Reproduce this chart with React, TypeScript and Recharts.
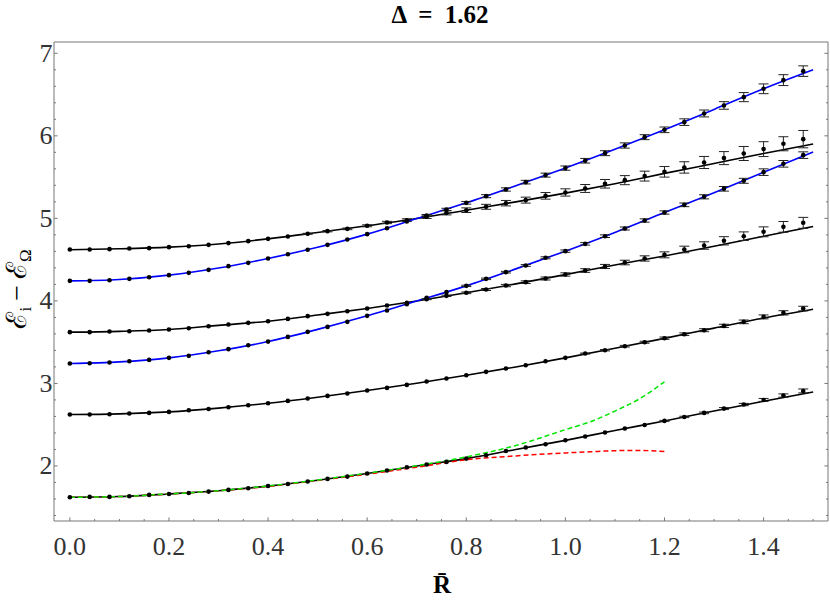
import { ComposedChart, Line, Scatter, ErrorBar, XAxis, YAxis } from 'recharts';

// sample positions of the simulation points (every 0.04)
const xPts = [
  0, 0.04, 0.08, 0.12, 0.16, 0.2, 0.24, 0.28, 0.32, 0.36, 0.4, 0.44, 0.48, 0.52, 0.56, 0.6, 0.64, 0.68, 0.72,
  0.76, 0.8, 0.84, 0.88, 0.92, 0.96, 1.0, 1.04, 1.08, 1.12, 1.16, 1.2, 1.24, 1.28, 1.32, 1.36, 1.4, 1.44, 1.48,
];

// fit curves, sampled every 0.1
const xLine = [0, 0.1, 0.2, 0.3, 0.4, 0.5, 0.6, 0.7, 0.8, 0.9, 1.0, 1.1, 1.2, 1.3, 1.4, 1.5];
const lineA = [4.62, 4.631, 4.651, 4.69, 4.752, 4.829, 4.91, 4.998, 5.099, 5.2, 5.306, 5.42, 5.545, 5.665, 5.785, 5.9];
const lineB = [4.243, 4.26, 4.312, 4.398, 4.514, 4.649, 4.809, 4.998, 5.188, 5.395, 5.609, 5.836, 6.073, 6.32, 6.57, 6.8];
const lineC = [3.621, 3.631, 3.653, 3.703, 3.754, 3.829, 3.908, 3.998, 4.098, 4.206, 4.318, 4.435, 4.545, 4.663, 4.783, 4.902];
const lineD = [3.241, 3.261, 3.31, 3.396, 3.507, 3.655, 3.819, 3.998, 4.182, 4.388, 4.603, 4.83, 5.071, 5.31, 5.56, 5.803];
const lineE = [2.623, 2.631, 2.655, 2.701, 2.76, 2.833, 2.914, 3.003, 3.099, 3.2, 3.31, 3.426, 3.546, 3.67, 3.792, 3.899];
const lineF = [1.621, 1.629, 1.661, 1.7, 1.756, 1.827, 1.908, 2.0, 2.089, 2.2, 2.31, 2.43, 2.545, 2.666, 2.785, 2.897];

// the two dashed approximations, 0 .. 1.2
const xDash = [0, 0.1, 0.2, 0.3, 0.4, 0.5, 0.6, 0.7, 0.8, 0.9, 1.0, 1.05, 1.1, 1.15, 1.2];
const greenDash = [1.621, 1.629, 1.661, 1.7, 1.757, 1.83, 1.912, 2.003, 2.11, 2.248, 2.44, 2.535, 2.665, 2.815, 3.02];
const redDash = [1.621, 1.629, 1.66, 1.699, 1.752, 1.825, 1.9, 1.985, 2.075, 2.122, 2.158, 2.172, 2.185, 2.188, 2.174];

// simulation points and their error bars
const ptsA = [
  4.623, 4.623, 4.627, 4.635, 4.639, 4.651, 4.663, 4.679, 4.7, 4.724, 4.752, 4.78, 4.813, 4.845, 4.873, 4.91, 4.95, 4.978, 5.019,
  5.067, 5.099, 5.14, 5.184, 5.221, 5.273, 5.314, 5.362, 5.419, 5.463, 5.512, 5.564, 5.617, 5.677, 5.73, 5.786, 5.839, 5.904, 5.96,
];
const errA = [
  0, 0, 0, 0, 0, 0, 0, 0, 0, 0, 0, 0, 0.006, 0.008, 0.01, 0.012, 0.014, 0.017, 0.02,
  0.025, 0.028, 0.03, 0.033, 0.036, 0.04, 0.044, 0.048, 0.052, 0.055, 0.06, 0.064, 0.069, 0.073, 0.079, 0.085, 0.09, 0.085, 0.105,
];
const ptsB = [
  4.243, 4.243, 4.251, 4.267, 4.287, 4.312, 4.34, 4.376, 4.421, 4.461, 4.514, 4.566, 4.619, 4.679, 4.744, 4.809, 4.881, 4.962, 5.035,
  5.108, 5.188, 5.269, 5.35, 5.439, 5.524, 5.609, 5.698, 5.79, 5.883, 5.984, 6.073, 6.166, 6.271, 6.368, 6.469, 6.57, 6.675, 6.784,
];
const errB = [
  0, 0, 0, 0, 0, 0, 0, 0, 0, 0, 0, 0, 0, 0, 0, 0, 0, 0, 0.012,
  0.014, 0.016, 0.018, 0.02, 0.022, 0.024, 0.026, 0.028, 0.03, 0.032, 0.03, 0.034, 0.04, 0.042, 0.046, 0.055, 0.059, 0.066, 0.064,
];
const ptsC = [
  3.621, 3.621, 3.629, 3.633, 3.641, 3.653, 3.669, 3.693, 3.714, 3.734, 3.754, 3.782, 3.815, 3.843, 3.875, 3.908, 3.944, 3.976, 4.021,
  4.061, 4.098, 4.138, 4.186, 4.227, 4.271, 4.32, 4.368, 4.417, 4.465, 4.514, 4.558, 4.623, 4.671, 4.728, 4.784, 4.837, 4.897, 4.946,
];
const errC = [
  0, 0, 0, 0, 0, 0, 0, 0, 0, 0, 0, 0, 0, 0, 0, 0, 0, 0, 0.006,
  0.008, 0.01, 0.012, 0.014, 0.016, 0.018, 0.02, 0.022, 0.025, 0.028, 0.032, 0.036, 0.04, 0.045, 0.05, 0.052, 0.06, 0.065, 0.066,
];
const ptsD = [
  3.241, 3.245, 3.253, 3.269, 3.285, 3.31, 3.334, 3.378, 3.415, 3.463, 3.507, 3.564, 3.625, 3.685, 3.746, 3.819, 3.883, 3.96, 4.037,
  4.106, 4.182, 4.267, 4.348, 4.429, 4.522, 4.603, 4.691, 4.784, 4.877, 4.974, 5.071, 5.164, 5.261, 5.358, 5.455, 5.56, 5.661, 5.766,
];
const errD = [
  0, 0, 0, 0, 0, 0, 0, 0, 0, 0, 0, 0, 0, 0, 0, 0, 0, 0, 0,
  0, 0.008, 0.009, 0.01, 0.011, 0.012, 0.014, 0.015, 0.016, 0.018, 0.02, 0.02, 0.022, 0.025, 0.028, 0.03, 0.04, 0.04, 0.04,
];
const ptsE = [
  2.623, 2.623, 2.627, 2.635, 2.643, 2.655, 2.675, 2.691, 2.712, 2.736, 2.76, 2.788, 2.817, 2.849, 2.877, 2.914, 2.946, 2.982, 3.023,
  3.059, 3.099, 3.14, 3.18, 3.221, 3.269, 3.31, 3.362, 3.402, 3.451, 3.499, 3.548, 3.596, 3.645, 3.697, 3.746, 3.806, 3.855, 3.907,
];
const errE = [
  0, 0, 0, 0, 0, 0, 0, 0, 0, 0, 0, 0, 0, 0, 0, 0, 0, 0, 0,
  0, 0, 0, 0, 0, 0, 0, 0.006, 0.008, 0.01, 0.012, 0.014, 0.016, 0.018, 0.02, 0.022, 0.024, 0.026, 0.028,
];
const ptsF = [
  1.621, 1.625, 1.625, 1.633, 1.649, 1.661, 1.673, 1.689, 1.71, 1.73, 1.758, 1.782, 1.811, 1.843, 1.871, 1.908, 1.944, 1.984, 2.017,
  2.049, 2.089, 2.13, 2.182, 2.223, 2.263, 2.312, 2.356, 2.405, 2.453, 2.497, 2.546, 2.594, 2.643, 2.695, 2.744, 2.8, 2.853, 2.909,
];
const errF = [
  0, 0, 0, 0, 0, 0, 0, 0, 0, 0, 0, 0, 0, 0, 0, 0, 0, 0, 0,
  0, 0, 0, 0, 0, 0, 0, 0, 0, 0, 0, 0.006, 0.008, 0.01, 0.012, 0.014, 0.018, 0.02, 0.024,
];

const xTicks = [0, 0.2, 0.4, 0.6, 0.8, 1.0, 1.2, 1.4];
const xMinorTicks = [
  0.05, 0.1, 0.15, 0.25, 0.3, 0.35, 0.45, 0.5, 0.55, 0.65, 0.7, 0.75, 0.85, 0.9, 0.95, 1.05, 1.1, 1.15, 1.25, 1.3, 1.35, 1.45, 1.5,
];
const yTicks = [2, 3, 4, 5, 6, 7];
const yMinorTicks = [
  1.4, 1.6, 1.8, 2.2, 2.4, 2.6, 2.8, 3.2, 3.4, 3.6, 3.8, 4.2, 4.4, 4.6, 4.8, 5.2, 5.4, 5.6, 5.8, 6.2, 6.4, 6.6, 6.8,
];

const X_DOMAIN = [-0.032, 1.53];
const Y_DOMAIN = [1.333, 7.137];
const FRAME = '#777';
const LABEL = '#333';
const SERIF = 'Liberation Serif, DejaVu Serif, serif';
const MAJOR = 3.6;
const MINOR = 2;

const allX = [...xTicks, ...xMinorTicks].sort((a, b) => a - b);
const allY = [...yTicks, ...yMinorTicks].sort((a, b) => a - b);

const toLine = (xs: number[], ys: number[]) => xs.map((x, i) => ({ x, y: ys[i] }));
const toPts = (ys: number[], es: number[]) => xPts.map((x, i) => ({ x, y: ys[i], e: es[i] }));

const fits = [
  { id: 'A', data: toLine(xLine, lineA), color: '#000' },
  { id: 'B', data: toLine(xLine, lineB), color: '#0000ff' },
  { id: 'C', data: toLine(xLine, lineC), color: '#000' },
  { id: 'D', data: toLine(xLine, lineD), color: '#0000ff' },
  { id: 'E', data: toLine(xLine, lineE), color: '#000' },
  { id: 'F', data: toLine(xLine, lineF), color: '#000' },
];
const dashed = [
  { id: 'red', data: toLine(xDash, redDash), color: '#ff0000' },
  { id: 'green', data: toLine(xDash, greenDash), color: '#00e600' },
];
const points = [
  toPts(ptsA, errA),
  toPts(ptsB, errB),
  toPts(ptsC, errC),
  toPts(ptsD, errD),
  toPts(ptsE, errE),
  toPts(ptsF, errF),
];

const Dot = (p: any) => <circle cx={p.cx} cy={p.cy} r={2.3} fill="#000" />;

// tick marks point into the frame; labels only on bottom and left
function BottomTick({ x, y, payload }: any) {
  const major = xTicks.includes(payload.value);
  return (
    <g>
      <line x1={x} y1={y} x2={x} y2={y - (major ? MAJOR : MINOR)} stroke={FRAME} />
      {major && (
        <text x={x} y={y + 33.5} textAnchor="middle" style={{ fontFamily: SERIF, fontSize: 26 }} fill={LABEL}>
          {payload.value.toFixed(1)}
        </text>
      )}
    </g>
  );
}
function TopTick({ x, y, payload }: any) {
  const major = xTicks.includes(payload.value);
  return <line x1={x} y1={y} x2={x} y2={y + (major ? MAJOR : MINOR)} stroke={FRAME} />;
}
function LeftTick({ x, y, payload }: any) {
  const major = yTicks.includes(payload.value);
  return (
    <g>
      <line x1={x} y1={y} x2={x + (major ? MAJOR : MINOR)} y2={y} stroke={FRAME} />
      {major && (
        <text x={x - 1.5} y={y + 8.5} textAnchor="end" style={{ fontFamily: SERIF, fontSize: 26 }} fill={LABEL}>
          {payload.value}
        </text>
      )}
    </g>
  );
}
function RightTick({ x, y, payload }: any) {
  const major = yTicks.includes(payload.value);
  return <line x1={x} y1={y} x2={x - (major ? MAJOR : MINOR)} y2={y} stroke={FRAME} />;
}

export default function App() {
  const axisBase = {
    type: 'number' as const,
    allowDataOverflow: true,
    interval: 0 as const,
    tickLine: false,
    tickSize: 0,
    tickMargin: 0,
    axisLine: { stroke: FRAME },
  };
  return (
    <div style={{ position: 'absolute', left: 0, top: 0, width: 830, height: 603, background: '#fff' }}>
      <ComposedChart width={830} height={603} margin={{ top: 41, right: 1, bottom: 0, left: 0 }}>
        <XAxis {...axisBase} xAxisId="b" dataKey="x" domain={X_DOMAIN} ticks={allX} height={82} tick={<BottomTick />} />
        <XAxis {...axisBase} xAxisId="t" orientation="top" domain={X_DOMAIN} ticks={allX} height={1} tick={<TopTick />} />
        <YAxis {...axisBase} yAxisId="l" dataKey="y" domain={Y_DOMAIN} ticks={allY} width={54} tick={<LeftTick />} />
        <YAxis {...axisBase} yAxisId="r" orientation="right" domain={Y_DOMAIN} ticks={allY} width={1} tick={<RightTick />} />

        {fits.map((f) => (
          <Line key={f.id} xAxisId="b" yAxisId="l" data={f.data} dataKey="y" type="monotone"
            stroke={f.color} strokeWidth={1.6} dot={false} isAnimationActive={false} />
        ))}
        {dashed.map((f) => (
          <Line key={f.id} xAxisId="b" yAxisId="l" data={f.data} dataKey="y" type="monotone"
            stroke={f.color} strokeWidth={1.5} strokeDasharray="5 3" dot={false} isAnimationActive={false} />
        ))}
        {points.map((d, i) => (
          <Scatter key={i} xAxisId="b" yAxisId="l" data={d} dataKey="y" shape={Dot} isAnimationActive={false}>
            <ErrorBar dataKey="e" direction="y" width={5} stroke="#222" strokeWidth={1} isAnimationActive={false} />
          </Scatter>
        ))}
      </ComposedChart>

      <svg width={830} height={603} style={{ position: 'absolute', left: 0, top: 0, pointerEvents: 'none', fontFamily: SERIF }}>
        <text x={440} y={23} textAnchor="middle" fontWeight="bold" fontSize={25} wordSpacing={6} fill="#000">
          Δ = 1.62
        </text>
        <text x={442} y={593} textAnchor="middle" fontWeight="bold" fontSize={25} fill="#000">
          R̄
        </text>
        <text transform="translate(26,289) rotate(-90)" textAnchor="middle" fontSize={28} fill="#000">
          ℰ<tspan fontSize={17} dy={5}>i</tspan>
          <tspan dy={-5} dx={6}>−</tspan>
          <tspan dx={6}>ℰ</tspan>
          <tspan fontSize={17} dy={5}>Ω</tspan>
        </text>
      </svg>
    </div>
  );
}
